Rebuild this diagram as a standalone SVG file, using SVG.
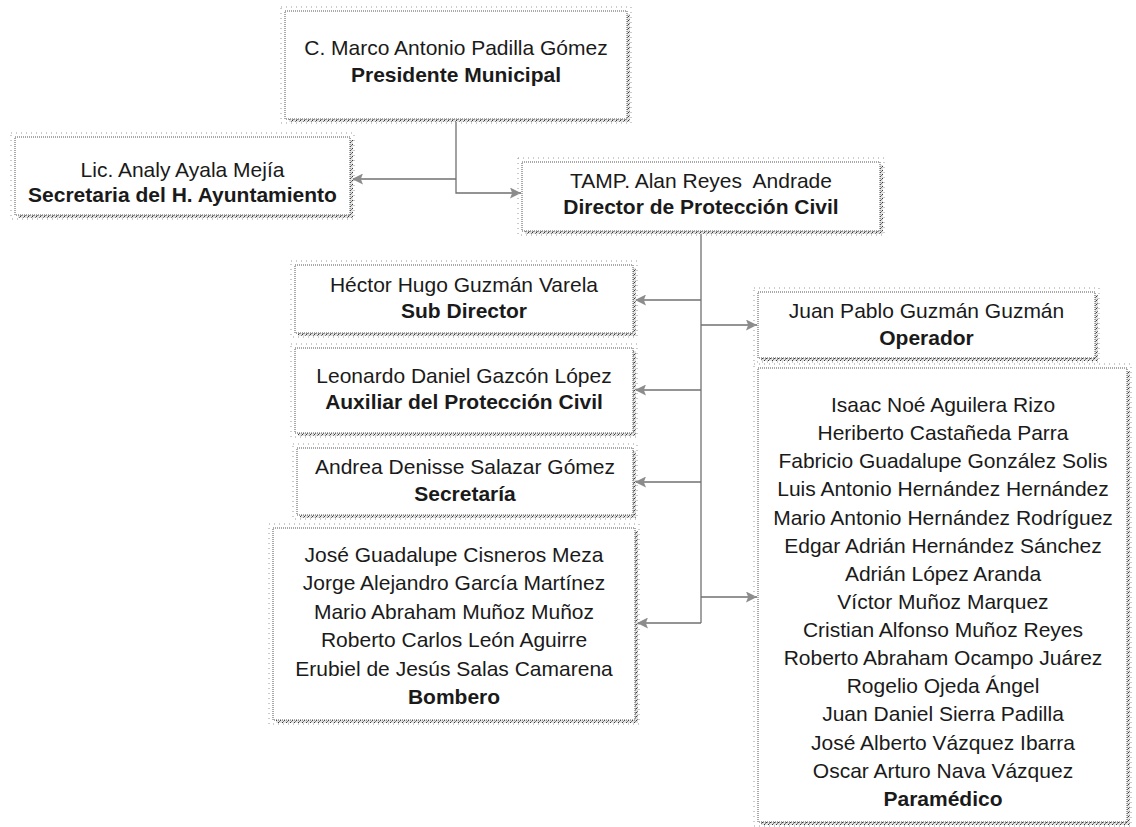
<svg xmlns="http://www.w3.org/2000/svg" width="1136" height="827" viewBox="0 0 1136 827">
<style>
.bx{fill:#fff;stroke:#555;stroke-width:1;stroke-dasharray:1 1}
.sh{fill:url(#hatch)}
.ol{fill:none;stroke:#999;stroke-width:1;stroke-dasharray:1 4}
text{font-family:"Liberation Sans",Arial,sans-serif;font-size:21px;fill:#1a1a1a;text-anchor:middle}
.b{font-weight:bold}
.d{white-space:pre}
.ln{fill:none;stroke:#707070;stroke-width:1.3}
</style>
<defs>
<pattern id="hatch" width="4" height="4" patternUnits="userSpaceOnUse">
<rect width="4" height="4" fill="#e2e2e2"/>
<rect x="0" y="0" width="1" height="1" fill="#3a3a3a"/>
<rect x="2" y="2" width="1" height="1" fill="#3a3a3a"/>
<rect x="1" y="3" width="1" height="1" fill="#808080"/>
<rect x="3" y="1" width="1" height="1" fill="#808080"/>
</pattern>
<marker id="ar" viewBox="0 0 10 10" refX="10" refY="5" markerWidth="12" markerHeight="11" markerUnits="userSpaceOnUse" orient="auto">
<path d="M0,0 L10,5 L0,10 L2,5 Z" fill="#8c8c8c"/>
</marker>
</defs>
<rect width="1136" height="827" fill="#fff"/>

<g id="connectors">
<path class="ln" d="M456,119 V193 H521" marker-end="url(#ar)"/>
<path class="ln" d="M456,179 H352" marker-end="url(#ar)"/>
<path class="ln" d="M701,231 V623"/>
<path class="ln" d="M701,300 H635" marker-end="url(#ar)"/>
<path class="ln" d="M701,325 H757" marker-end="url(#ar)"/>
<path class="ln" d="M701,390 H635" marker-end="url(#ar)"/>
<path class="ln" d="M701,482 H635" marker-end="url(#ar)"/>
<path class="ln" d="M701,597 H757" marker-end="url(#ar)"/>
<path class="ln" d="M701,623 H637" marker-end="url(#ar)"/>
</g>

<g id="presidente">
<rect class="sh" x="289" y="14" width="341" height="108"/>
<rect class="bx" x="285" y="11" width="342" height="108"/>
<rect class="ol" x="281" y="7" width="350" height="116"/>
<text x="456" y="55">C. Marco Antonio Padilla Gómez</text>
<text class="b" x="456" y="82">Presidente Municipal</text>
</g>

<g id="secretaria-ayuntamiento">
<rect class="sh" x="18" y="140" width="335" height="78"/>
<rect class="bx" x="15" y="137" width="335" height="78"/>
<rect class="ol" x="11" y="133" width="343" height="86"/>
<text x="182.5" y="177">Lic. Analy Ayala Mejía</text>
<text class="b" x="182.5" y="202">Secretaria del H. Ayuntamiento</text>
</g>

<g id="director">
<rect class="sh" x="525" y="165" width="358" height="69"/>
<rect class="bx" x="522" y="162" width="358" height="69"/>
<rect class="ol" x="518" y="158" width="366" height="77"/>
<text class="d" x="701" y="188">TAMP. Alan Reyes  Andrade</text>
<text class="b" x="701" y="214">Director de Protección Civil</text>
</g>

<g id="subdirector">
<rect class="sh" x="298" y="268" width="338" height="68"/>
<rect class="bx" x="295" y="265" width="338" height="68"/>
<rect class="ol" x="291" y="261" width="346" height="76"/>
<text x="464" y="292">Héctor Hugo Guzmán Varela</text>
<text class="b" x="464" y="318">Sub Director</text>
</g>

<g id="operador">
<rect class="sh" x="761" y="295" width="337" height="66"/>
<rect class="bx" x="758" y="292" width="337" height="66"/>
<rect class="ol" x="754" y="288" width="345" height="74"/>
<text x="926.5" y="318">Juan Pablo Guzmán Guzmán</text>
<text class="b" x="926.5" y="345">Operador</text>
</g>

<g id="auxiliar">
<rect class="sh" x="298" y="351" width="338" height="85"/>
<rect class="bx" x="295" y="348" width="338" height="85"/>
<rect class="ol" x="291" y="344" width="346" height="93"/>
<text x="464" y="383">Leonardo Daniel Gazcón López</text>
<text class="b" x="464" y="409">Auxiliar del Protección Civil</text>
</g>

<g id="secretaria">
<rect class="sh" x="300" y="451" width="336" height="67"/>
<rect class="bx" x="297" y="448" width="336" height="67"/>
<rect class="ol" x="293" y="444" width="344" height="75"/>
<text x="465" y="474">Andrea Denisse Salazar Gómez</text>
<text class="b" x="465" y="501">Secretaría</text>
</g>

<g id="bombero">
<rect class="sh" x="276" y="531" width="362" height="192"/>
<rect class="bx" x="273" y="528" width="362" height="192"/>
<rect class="ol" x="269" y="524" width="370" height="200"/>
<text x="454" y="562">José Guadalupe Cisneros Meza</text>
<text x="454" y="590">Jorge Alejandro García Martínez</text>
<text x="454" y="619">Mario Abraham Muñoz Muñoz</text>
<text x="454" y="647">Roberto Carlos León Aguirre</text>
<text x="454" y="676">Erubiel de Jesús Salas Camarena</text>
<text class="b" x="454" y="704">Bombero</text>
</g>

<g id="paramedico">
<rect class="sh" x="761" y="371" width="369" height="454"/>
<rect class="bx" x="758" y="368" width="369" height="454"/>
<rect class="ol" x="754" y="364" width="377" height="462"/>
<text x="943" y="412">Isaac Noé Aguilera Rizo</text>
<text x="943" y="440">Heriberto Castañeda Parra</text>
<text x="943" y="468">Fabricio Guadalupe González Solis</text>
<text x="943" y="496">Luis Antonio Hernández Hernández</text>
<text x="943" y="525">Mario Antonio Hernández Rodríguez</text>
<text x="943" y="553">Edgar Adrián Hernández Sánchez</text>
<text x="943" y="581">Adrián López Aranda</text>
<text x="943" y="609">Víctor Muñoz Marquez</text>
<text x="943" y="637">Cristian Alfonso Muñoz Reyes</text>
<text x="943" y="665">Roberto Abraham Ocampo Juárez</text>
<text x="943" y="693">Rogelio Ojeda Ángel</text>
<text x="943" y="721">Juan Daniel Sierra Padilla</text>
<text x="943" y="750">José Alberto Vázquez Ibarra</text>
<text x="943" y="778">Oscar Arturo Nava Vázquez</text>
<text class="b" x="943" y="806">Paramédico</text>
</g>
</svg>
